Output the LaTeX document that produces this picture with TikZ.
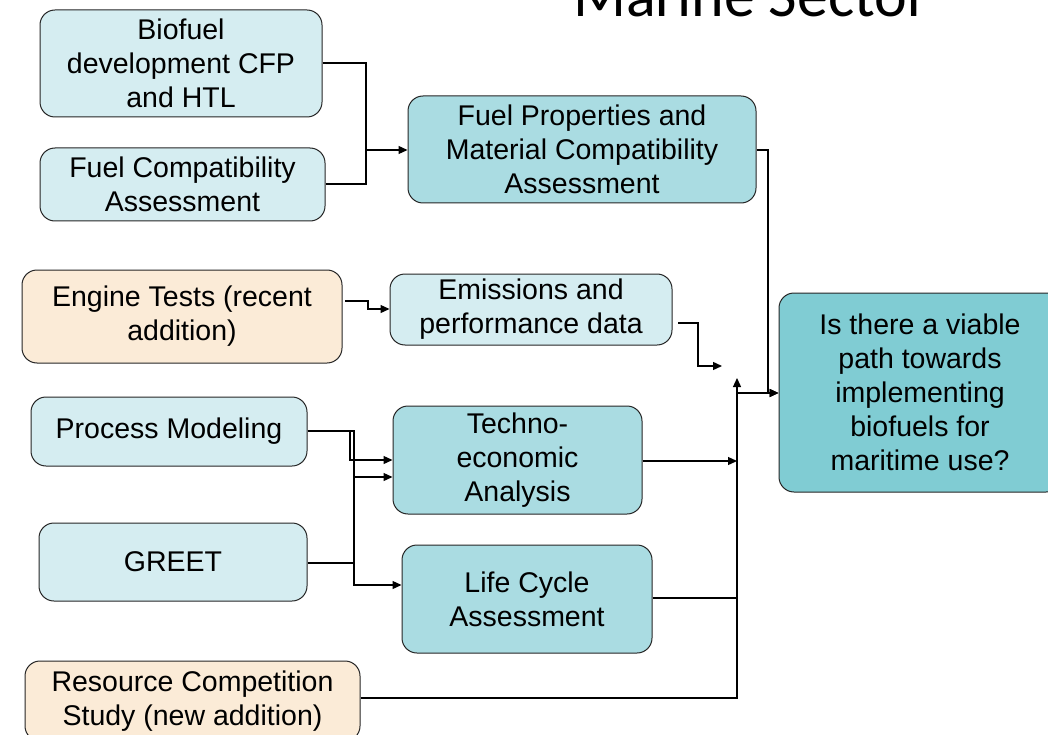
\documentclass[tikz,border=0pt]{standalone}
\usepackage{fontspec}
\setmainfont{Liberation Sans}
\newfontfamily\titlefont{Carlito}
\usetikzlibrary{arrows.meta}
\definecolor{lightbox}{HTML}{D5EDF1}
\definecolor{midbox}{HTML}{AADCE2}
\definecolor{darkbox}{HTML}{80CCD3}
\definecolor{beigebox}{HTML}{FBEBD7}
\tikzset{
  box/.style={draw=black!85, line width=1pt, rounded corners=15pt, align=center,
    inner sep=0pt, font=\fontsize{28.5}{34}\selectfont},
  lbox/.style={box, fill=lightbox},
  mbox/.style={box, fill=midbox},
  dbox/.style={box, fill=darkbox},
  bbox/.style={box, fill=beigebox},
  conn/.style={line width=1.3pt, draw=black},
  arr/.style={conn, -{Triangle[length=9pt,width=8pt]}}
}
\begin{document}
\begin{tikzpicture}[x=1pt,y=-1pt]
\useasboundingbox (0,0) rectangle (1048,735);
\clip (0,0) rectangle (1048,735);
\fill[white] (0,0) rectangle (1048,735);
\node[anchor=base, font=\titlefont\fontsize{62}{70}\selectfont] (title) at (751,17) {Marine Sector};

\node[lbox, minimum width=282pt, minimum height=107pt] (bio) at (181,63.5) {Biofuel\\development CFP\\and HTL};
\node[lbox, minimum width=285pt, minimum height=73pt] (fca) at (182.5,184.5) {Fuel Compatibility\\Assessment};
\node[mbox, minimum width=348pt, minimum height=107pt] (fpm) at (582,149.5) {Fuel Properties and\\Material Compatibility\\Assessment};
\node[bbox, minimum width=320pt, minimum height=93pt] (eng) at (182,316.5) {Engine Tests (recent\\addition)};
\node[lbox, minimum width=282pt, minimum height=71pt] (emi) at (531,309.5) {Emissions and\\performance data};
\node[dbox, minimum width=282pt, minimum height=199pt] (q) at (920,392.5) {Is there a viable\\path towards\\implementing\\biofuels for\\maritime use?};
\node[lbox, minimum width=276pt, minimum height=69pt] (pm) at (169,431.5) {Process Modeling};
\node[mbox, minimum width=249pt, minimum height=108pt] (tea) at (517.5,460) {Techno-\\economic\\Analysis};
\node[lbox, minimum width=268pt, minimum height=78pt] (greet) at (173,562) {GREET};
\node[mbox, minimum width=250pt, minimum height=108pt] (lca) at (527,599) {Life Cycle\\Assessment};
\node[bbox, minimum width=335pt, minimum height=80pt] (rcs) at (192.5,701) {Resource Competition\\Study (new addition)};

% free ends
\coordinate (emiend) at (722,366);
\coordinate (busup) at (737,378);

% top group
\draw[conn] (bio.east |- 0,63) -- (366,63) -- (366,150);
\draw[arr] (fca.east |- 0,184) -- (366,184) -- (366,150) -- (fpm.west |- 0,150);
\draw[arr] (fpm.east |- 0,150) -- (768,150) -- (768,393) -- (q.west |- 0,393);

% engine / emissions
\draw[arr] (345,301) -- (368,301) -- (368,309) -- (emi.west |- 0,309);
\draw[arr] (678,323) -- (698,323) -- (698,366) -- (emiend);

% process / greet
\draw[arr] (pm.east |- 0,431) -- (350,431) -- (350,460) -- (tea.west |- 0,460);
\draw[conn] (pm.east |- 0,431) -- (354,431) -- (354,563);
\draw[arr] (greet.east |- 0,563) -- (354,563) -- (354,477) -- (tea.west |- 0,477);
\draw[arr] (354,563) -- (354,585) -- (lca.west |- 0,585);

% bus
\draw[arr] (tea.east |- 0,461) -- (737,461);
\draw[conn] (lca.east |- 0,598) -- (737,598);
\draw[arr] (rcs.east |- 0,698) -- (737,698) -- (busup);
\draw[arr] (737,393) -- (q.west |- 0,393);
\end{tikzpicture}
\end{document}
